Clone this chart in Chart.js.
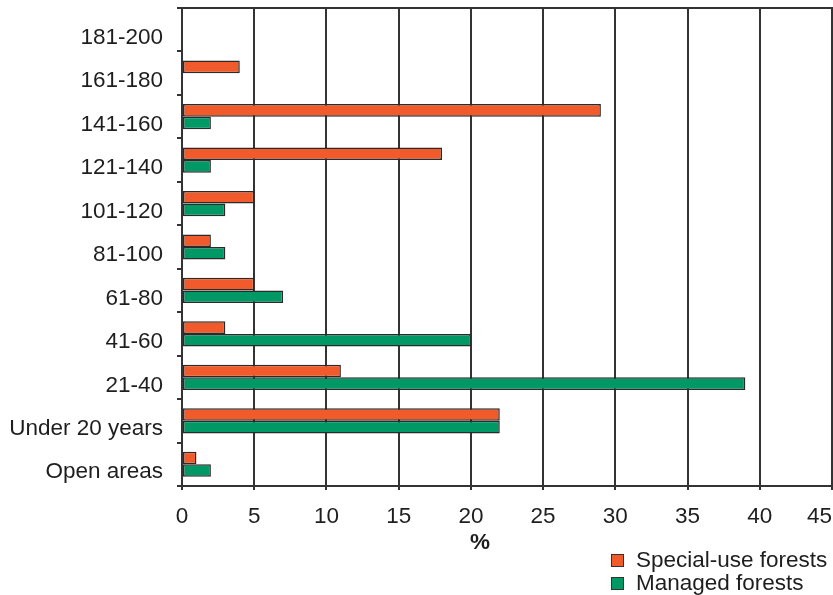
<!DOCTYPE html>
<html>
<head>
<meta charset="utf-8">
<script src="https://cdn.jsdelivr.net/npm/chart.js@4"></script>
<style>
  html, body { margin: 0; padding: 0; background: #fff; }
  #wrap { width: 833px; height: 595px; position: relative; }
</style>
</head>
<body>
<div id="wrap"><canvas id="c"></canvas></div>
<script>
// Age classes (years), top to bottom
const ageClasses = ['181-200', '161-180', '141-160', '121-140', '101-120', '81-100',
                    '61-80', '41-60', '21-40', 'Under 20 years', 'Open areas'];
// Share of area, %
const specialUse = [0, 4, 29, 18, 5, 2, 5, 3, 11, 22, 1];
const managed    = [0, 0, 2, 2, 3, 3, 7, 20, 39, 22, 2];
const xTicks = [0, 5, 10, 15, 20, 25, 30, 35, 40, 45];
const xTitle = '%';

const FONT = 'Liberation Sans, Arial, Helvetica, sans-serif';
const FSIZE = 22.5;
const INK = '#1e1e1e';
const LINE = '#333';

// Top frame line over the plot area
const frame = {
  id: 'frame',
  afterDatasetsDraw(chart) {
    const { ctx, chartArea: a } = chart;
    ctx.save();
    ctx.strokeStyle = LINE;
    ctx.lineWidth = 2;
    ctx.beginPath();
    ctx.moveTo(a.left - 1, a.top);
    ctx.lineTo(a.right + 1, a.top);
    ctx.stroke();
    ctx.restore();
  }
};

// Keep the last x label inside the canvas: right-align it on its tick
const lastTickInside = {
  id: 'lastTickInside',
  beforeDraw(chart) {
    const items = chart.scales.x.getLabelItems();
    if (items.length) items[items.length - 1].options.textAlign = 'right';
  }
};

// Unit label under the x axis, slightly left of the axis middle
const unitTitle = {
  id: 'unitTitle',
  afterDraw(chart) {
    const { ctx } = chart;
    const xs = chart.scales.x;
    ctx.save();
    ctx.font = 'bold ' + FSIZE + 'px ' + FONT;
    ctx.fillStyle = INK;
    ctx.textAlign = 'center';
    ctx.textBaseline = 'middle';
    ctx.fillText(xTitle, xs.left + 298, xs.top + 57);
    ctx.restore();
  }
};

// Stacked legend in the lower right corner
const stackedLegend = {
  id: 'stackedLegend',
  afterDraw(chart) {
    const { ctx } = chart;
    const x0 = 611, y0 = 554, step = 23, box = 12;
    ctx.save();
    ctx.font = FSIZE + 'px ' + FONT;
    ctx.textBaseline = 'middle';
    ctx.textAlign = 'left';
    chart.data.datasets.forEach((ds, i) => {
      const y = y0 + i * step;
      ctx.fillStyle = ds.backgroundColor;
      ctx.fillRect(x0, y, box, box);
      ctx.strokeStyle = LINE;
      ctx.lineWidth = 1;
      ctx.strokeRect(x0 + 0.5, y + 0.5, box, box);
      ctx.fillStyle = INK;
      ctx.fillText(ds.label, x0 + 25, y + box / 2 + 1);
    });
    ctx.restore();
  }
};

new Chart(document.getElementById('c'), {
  type: 'bar',
  data: {
    labels: ageClasses,
    datasets: [
      { label: 'Special-use forests', data: specialUse, backgroundColor: '#F15A2B',
        borderColor: '#2a2a2a', borderWidth: 1.5, borderSkipped: false },
      { label: 'Managed forests', data: managed, backgroundColor: '#009966',
        borderColor: '#2a2a2a', borderWidth: 1.5, borderSkipped: false }
    ]
  },
  options: {
    indexAxis: 'y',
    responsive: true,
    maintainAspectRatio: false,
    animation: false,
    layout: { padding: { top: 8, right: 1, bottom: 29, left: 0 } },
    datasets: { bar: { barPercentage: 1.0, categoryPercentage: 0.58 } },
    plugins: { legend: { display: false }, tooltip: { enabled: false } },
    scales: {
      x: {
        min: 0, max: 45,
        afterBuildTicks(scale) { scale.ticks = xTicks.map(v => ({ value: v })); },
        afterFit(scale) {
          scale.height = 80;
          scale.paddingLeft = 0;
          scale.paddingRight = 0;
        },
        grid: { color: LINE, lineWidth: 2, tickLength: 4 },
        border: { display: true, color: LINE, width: 2 },
        ticks: { color: INK, padding: 13, font: { family: FONT, size: FSIZE } },
        title: { display: false }
      },
      y: {
        afterFit(scale) {
          scale.width = 182;
          scale.paddingTop = 0;
          scale.paddingBottom = 0;
        },
        grid: { display: true, drawOnChartArea: false, color: LINE, lineWidth: 2, tickLength: 5, offset: true },
        border: { display: true, color: LINE, width: 2 },
        ticks: { color: INK, padding: 14, labelOffset: 8, font: { family: FONT, size: FSIZE } }
      }
    }
  },
  plugins: [frame, lastTickInside, unitTitle, stackedLegend]
});
</script>
</body>
</html>
